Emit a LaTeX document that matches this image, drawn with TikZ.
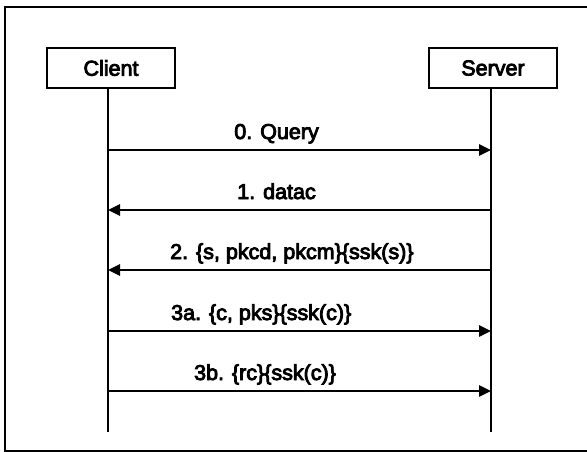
\documentclass[tikz,border=0pt]{standalone}
\usepackage{fontspec}
\setmainfont{Liberation Sans}
\newfontfamily\lblfont{Liberation Sans}[FakeBold=4]
\usepackage{tikz}
\usetikzlibrary{positioning,arrows.meta}

\begin{document}
\begin{tikzpicture}[x=1pt,y=-1pt,
  box/.style={draw, line width=2.5pt, minimum width=128pt, minimum height=40pt,
              inner sep=0pt, font=\lblfont\fontsize{21.5}{24}\selectfont},
  arr/.style={-{Triangle[length=12pt,width=11pt]}, line width=2.5pt},
  lbl/.style={anchor=base, yshift=11pt, inner sep=0pt,
              font=\lblfont\fontsize{21.5}{24}\selectfont},
  life/.style={line width=2.5pt}
]
\useasboundingbox (0,0) rectangle (587,452);
\draw[line width=2.5pt] (587,7) -- (5,7) -- (5,451) -- (587,451);
\node[box] (client) at (111,68) {Client};
\node[box] (server) at (493,68) {Server};
\coordinate (cend) at (108,432);
\coordinate (send) at (491,432);
\draw[life] (client.south -| cend) -- (cend);
\draw[life] (server.south -| send) -- (send);
\foreach \i/\y in {0/150,1/210,2/270,3/331,4/391}{
  \coordinate (c\i) at (108,\y);
  \coordinate (s\i) at (491,\y);
}
\draw[arr] (c0) -- node[lbl,pos=0.44] {0. Query} (s0);
\draw[arr] (s1) -- node[lbl,pos=0.56] {1. datac} (c1);
\draw[arr] (s2) -- node[lbl,pos=0.52] {2. \{s, pkcd, pkcm\}\{ssk(s)\}} (c2);
\draw[arr] (c3) -- node[lbl,pos=0.40] {3a. \{c, pks\}\{ssk(c)\}} (s3);
\draw[arr] (c4) -- node[lbl,pos=0.41] {3b. \{rc\}\{ssk(c)\}} (s4);
\end{tikzpicture}
\end{document}
